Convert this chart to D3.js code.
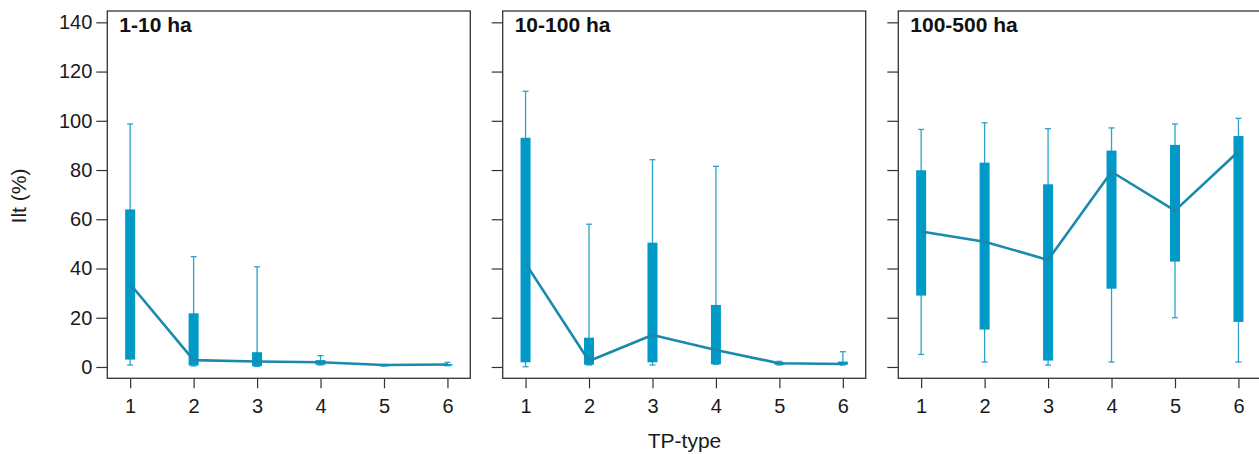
<!DOCTYPE html>
<html>
<head>
<meta charset="utf-8">
<script src="https://cdn.jsdelivr.net/npm/d3@7"></script>
<style>
  html, body { margin: 0; padding: 0; background: #fff; }
  svg { display: block; font-family: Arial, "Liberation Sans", Helvetica, sans-serif; }
</style>
</head>
<body>
<svg id="chart" width="1259" height="454"></svg>
<script>
// ---- data ----
const panels = ["1-10 ha", "10-100 ha", "100-500 ha"];
const tpTypes = [1, 2, 3, 4, 5, 6];
const yTicks = [0, 20, 40, 60, 80, 100, 120, 140];

// per panel, per TP-type: whisker low, q1, median, q3, whisker high
const whiskLow = [
  [0.8, 0.4, 0.2, 0.8, 0.4, 0.5],
  [0.1, 0.8, 0.8, 1.1, 0.8, 0.8],
  [5.1, 2.0, 0.8, 2.0, 20.0, 2.0]
];
const q1 = [
  [3.0, 0.6, 0.3, 0.9, 0.5, 0.6],
  [1.9, 0.9, 1.9, 1.1, 0.9, 0.9],
  [29.0, 15.2, 2.6, 31.8, 42.8, 18.3]
];
const medians = [
  [33.7, 2.8, 2.2, 1.9, 0.8, 1.0],
  [42.1, 2.4, 13.0, 6.9, 1.5, 1.2],
  [55.0, 50.9, 43.5, 79.3, 63.5, 87.5]
];
const q3 = [
  [64.0, 21.8, 6.0, 2.8, 0.9, 1.2],
  [93.1, 11.9, 50.5, 25.2, 2.0, 2.2],
  [79.9, 83.0, 74.2, 87.9, 90.2, 93.8]
];
const whiskHigh = [
  [98.7, 44.8, 40.7, 4.6, 1.0, 1.9],
  [112.0, 58.0, 84.2, 81.5, 2.3, 6.2],
  [96.5, 99.2, 96.8, 97.1, 98.7, 101.0]
];

// ---- layout ----
const svg = d3.select("#chart");
const panelLeft = [107.3, 502.7, 898.3];
const panelW = 363;
const plotTop = 11, plotBottom = 378.3;
const boxColor = "#0099c8";
const whiskColor = "#2ea2c8";
const lineColor = "#1a89ad";
const borderColor = "#333333";
const textColor = "#1a1a1a";

const y = d3.scaleLinear().domain([-4.6, 144.6]).range([plotBottom, plotTop]);

panels.forEach((title, p) => {
  const x0 = panelLeft[p];
  const x = d3.scaleLinear().domain([0.64, 6.36]).range([x0, x0 + panelW]);
  const g = svg.append("g");

  // y axis
  const ya = g.append("g")
    .attr("transform", `translate(${x0},0)`)
    .call(d3.axisLeft(y).tickValues(yTicks).tickSize(11).tickPadding(4)
      .tickFormat(p === 0 ? d3.format("d") : () => ""));
  ya.select(".domain").remove();
  ya.selectAll(".tick line").attr("stroke", borderColor).attr("stroke-width", 1.2);
  ya.selectAll(".tick text").attr("font-size", 20).attr("fill", textColor)
    .attr("font-family", "Arial, 'Liberation Sans', sans-serif");

  // x axis
  const xa = g.append("g")
    .attr("transform", `translate(0,${plotBottom})`)
    .call(d3.axisBottom(x).tickValues(tpTypes).tickSize(10).tickPadding(10.5)
      .tickFormat(d3.format("d")));
  xa.select(".domain").remove();
  xa.selectAll(".tick line").attr("stroke", borderColor).attr("stroke-width", 1.2);
  xa.selectAll(".tick text").attr("font-size", 20).attr("fill", textColor)
    .attr("font-family", "Arial, 'Liberation Sans', sans-serif");

  // frame
  g.append("rect")
    .attr("x", x0).attr("y", plotTop)
    .attr("width", panelW).attr("height", plotBottom - plotTop)
    .attr("fill", "none").attr("stroke", borderColor).attr("stroke-width", 1.3);

  const rows = tpTypes.map((t, i) => ({
    t, lo: whiskLow[p][i], q1: q1[p][i], med: medians[p][i],
    q3: q3[p][i], hi: whiskHigh[p][i]
  }));

  // whiskers
  g.selectAll(".whisk").data(rows).join("line")
    .attr("x1", d => x(d.t)).attr("x2", d => x(d.t))
    .attr("y1", d => y(d.lo)).attr("y2", d => y(d.hi))
    .attr("stroke", whiskColor).attr("stroke-width", 1.3);
  ["lo", "hi"].forEach(k => {
    g.selectAll(".cap-" + k).data(rows).join("line")
      .attr("x1", d => x(d.t) - 3).attr("x2", d => x(d.t) + 3)
      .attr("y1", d => y(d[k])).attr("y2", d => y(d[k]))
      .attr("stroke", whiskColor).attr("stroke-width", 1.3);
  });

  // boxes
  g.selectAll(".box").data(rows).join("rect")
    .attr("x", d => x(d.t) - 5).attr("width", 10)
    .attr("y", d => y(d.q3))
    .attr("height", d => Math.max(1.5, y(d.q1) - y(d.q3)))
    .attr("fill", boxColor);

  // median line
  g.append("path")
    .datum(rows)
    .attr("d", d3.line().x(d => x(d.t)).y(d => y(d.med)))
    .attr("fill", "none").attr("stroke", lineColor)
    .attr("stroke-width", 2.6).attr("stroke-linejoin", "round");

  // title
  g.append("text")
    .attr("x", x0 + 12).attr("y", 32)
    .attr("font-size", 21).attr("font-weight", "bold").attr("fill", "#111")
    .text(title);
});

// axis titles
svg.append("text")
  .attr("transform", "translate(26,196) rotate(-90)")
  .attr("text-anchor", "middle")
  .attr("font-size", 21).attr("fill", textColor)
  .text("Ilt (%)");

svg.append("text")
  .attr("x", 684.5).attr("y", 448)
  .attr("text-anchor", "middle")
  .attr("font-size", 21).attr("fill", textColor)
  .text("TP-type");
</script>
</body>
</html>
